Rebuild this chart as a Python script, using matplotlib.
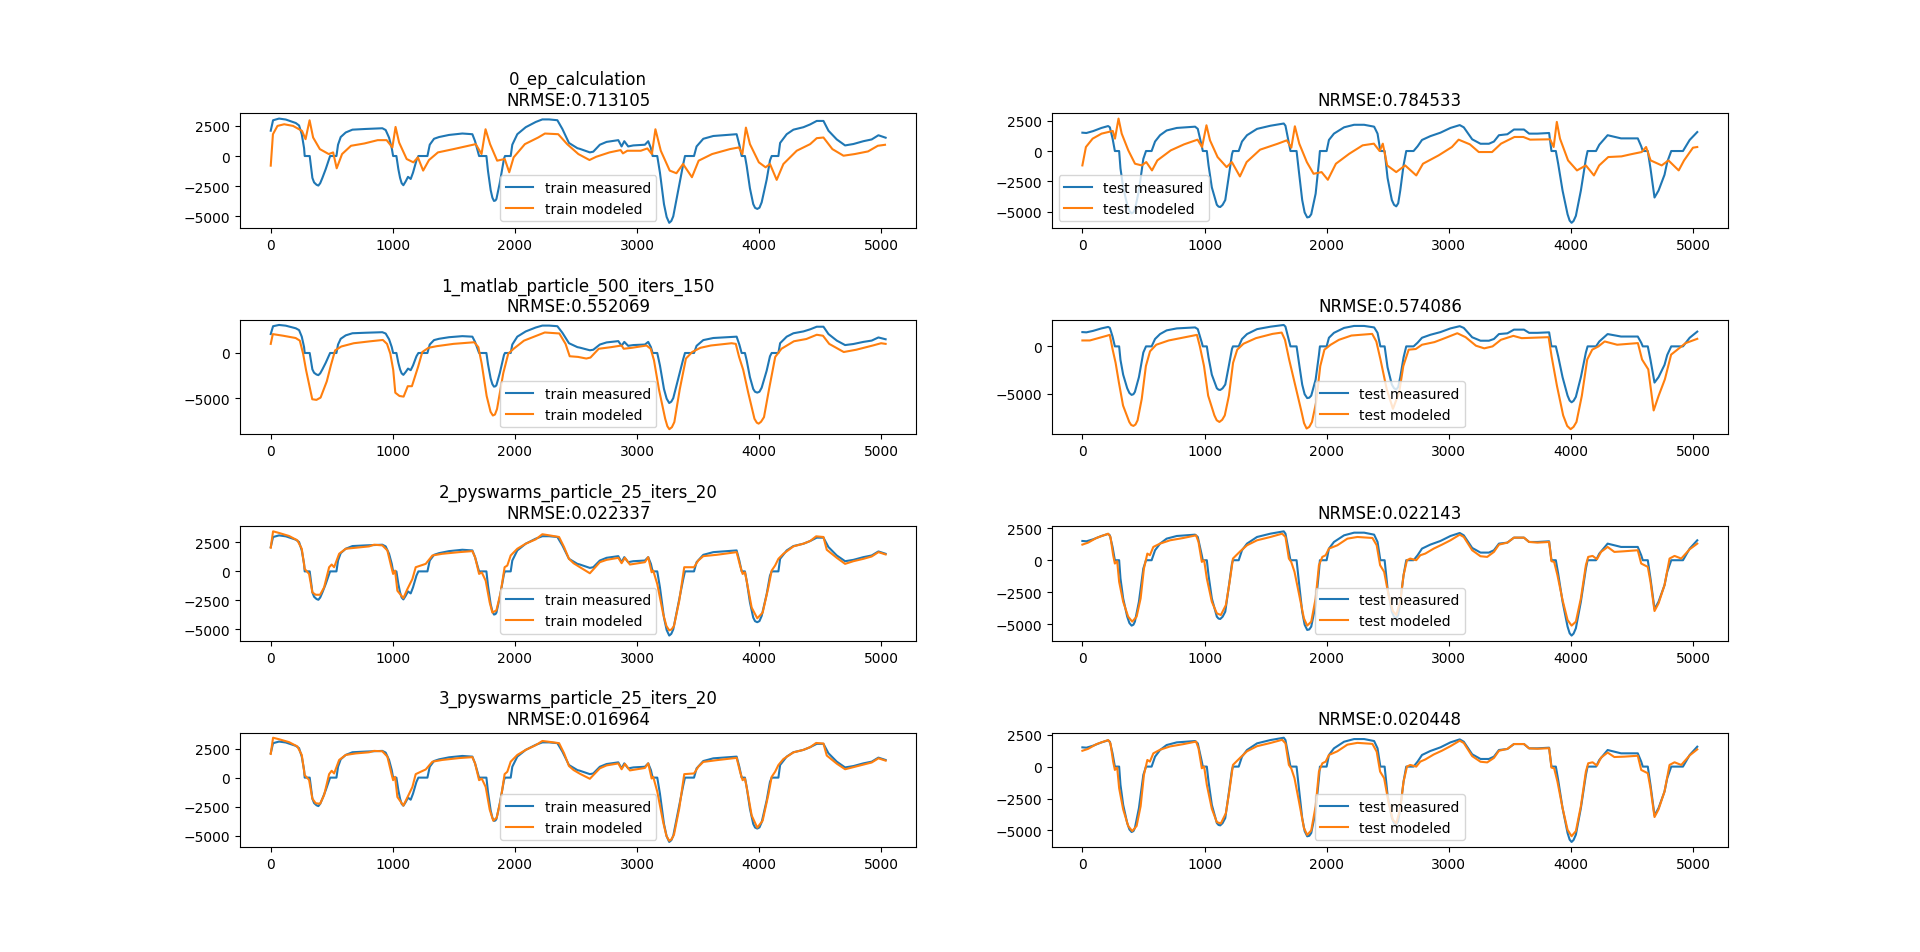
import numpy as np
import matplotlib
matplotlib.use("Agg")
import matplotlib.pyplot as plt

# run names and scores
run_names = ["0_ep_calculation", "1_matlab_particle_500_iters_150",
             "2_pyswarms_particle_25_iters_20", "3_pyswarms_particle_25_iters_20"]
train_nrmse = ["0.713105", "0.552069", "0.022337", "0.016964"]
test_nrmse = ["0.784533", "0.574086", "0.022143", "0.020448"]

# measured series (same in every row)
train_measured = [
    (0, 2095), (19, 2960), (68, 3100), (123, 3021), (205, 2732), (232, 2529), (254, 1806), (273, 648),
    (278, 0), (319, 0), (327, -653), (341, -1811), (355, -2187), (375, -2380), (390, -2447), (405, -2250),
    (423, -1811), (450, -1088),
    (478, -220), (486, 0), (538, 0), (551, 935), (573, 1571), (614, 1950), (669, 2182), (778, 2240),
    (914, 2298), (941, 2153), (969, 1516), (991, 648), (1002, 0), (1029, 0), (1045, -1088), (1059, -1811),
    (1072, -2250), (1086, -2418), (1105, -2100), (1124, -1724), (1146, -1900), (1165, -1377), (1193, -365),
    (1209, 0),
    (1283, 0), (1302, 935), (1337, 1427), (1378, 1571), (1460, 1745), (1569, 1863), (1651, 1805),
    (1673, 1227), (1706, 0), (1766, 0), (1779, -1239), (1801, -2830), (1815, -3450), (1828, -3720),
    (1840, -3680), (1848, -3554), (1875, -2251), (1910, -220), (1918, 0), (1965, 0), (1978, 935),
    (2019, 1806), (2088, 2385),
    (2170, 2819), (2224, 3030), (2279, 3030), (2347, 2963), (2388, 2240), (2442, 1082), (2511, 648),
    (2532, 590), (2613, 300), (2641, 359), (2695, 935), (2750, 1169), (2846, 1313), (2873, 793),
    (2895, 1227), (2927, 793), (2969, 877), (3064, 935), (3091, 1227), (3113, 648), (3127, 0), (3165, 0),
    (3187, -1377), (3220, -3982), (3242, -5050), (3263, -5530), (3280, -5380), (3296, -4995),
    (3337, -2824), (3378, -654), (3392, 0),
    (3466, 0), (3487, 793), (3542, 1427), (3624, 1658), (3733, 1745), (3815, 1806), (3837, 935),
    (3856, 0), (3883, 0), (3897, -799), (3924, -2679), (3951, -3982), (3966, -4290), (3984, -4380),
    (4002, -4280), (4020, -3837),
    (4061, -1956), (4088, -365), (4102, 0), (4157, 0), (4171, 1082), (4225, 1806), (4280, 2182),
    (4362, 2385), (4417, 2616), (4471, 2905), (4526, 2905), (4567, 2095), (4635, 1372), (4703, 877),
    (4771, 993), (4853, 1227), (4921, 1372), (4976, 1719), (5035, 1516),
]

test_measured = [
    (0, 1508), (33, 1482), (88, 1638), (156, 1898), (211, 2054), (225, 1950), (247, 1040), (266, 0),
    (301, 0), (312, -1430), (334, -2990), (367, -4420), (385, -4920), (403, -5122), (418, -5050),
    (430, -4810), (463, -3250),
    (499, -650), (521, 0), (567, 0), (595, 780), (636, 1300), (690, 1690), (773, 1898), (923, 2002),
    (945, 1820), (978, 390), (986, 0), (1019, 0), (1033, -1170), (1060, -2990), (1101, -4420),
    (1115, -4570), (1129, -4602), (1148, -4430), (1170, -4030), (1197, -2210), (1225, -260), (1233, 0),
    (1280, 0), (1307, 780),
    (1348, 1300), (1430, 1820), (1540, 2080), (1649, 2262), (1663, 2080), (1691, 650), (1704, 0),
    (1754, 0), (1773, -1690), (1800, -4030), (1820, -5050), (1841, -5460), (1858, -5420), (1874, -5200),
    (1910, -3510), (1937, -910),
    (1945, 0), (2000, 0), (2019, 910), (2060, 1430), (2143, 1950), (2225, 2158), (2307, 2158),
    (2389, 2002), (2417, 1430), (2440, 0), (2475, 0), (2499, -2210), (2534, -4030), (2552, -4420),
    (2570, -4550), (2586, -4300), (2603, -3250), (2630, -1170), (2652, 0), (2712, 0), (2745, 390),
    (2781, 910), (2849, 1222),
    (2932, 1508), (3014, 1898), (3090, 2132), (3123, 1950), (3192, 962), (3260, 598), (3329, 598),
    (3370, 780), (3411, 1300), (3480, 1378), (3534, 1768), (3616, 1768), (3658, 1430), (3726, 1430),
    (3822, 1482), (3841, 0), (3877, 0), (3896, -1040), (3932, -3250), (3973, -5200), (3990, -5720),
    (4006, -5902), (4022, -5750), (4041, -5330), (4082, -3250), (4123, -650), (4137, 0), (4206, 0),
    (4233, 520), (4301, 1300),
    (4356, 1170), (4411, 1040), (4548, 1040), (4576, 390), (4589, 0), (4630, 0), (4652, -1430),
    (4685, -3822), (4718, -3250), (4767, -1950), (4789, -910), (4822, 0), (4918, 0), (4973, 910),
    (5035, 1560),
]

# modeled series, one per run
train_modeled_0 = [
    (0, -798), (18, 1806), (55, 2492), (110, 2629), (183, 2492), (256, 2080), (285, 1395), (318, 2958),
    (347, 1532), (402, 573), (475, 162), (511, 299), (540, -1017), (584, 162), (657, 847), (767, 1039),
    (876, 1313), (949, 1313), (996, 710), (1022, 2409), (1051, 1121), (1113, -249), (1168, -524),
    (1205, -112), (1248, -1208), (1296, -332), (1369, 299), (1497, 573), (1679, 984), (1726, 162),
    (1759, 2217), (1796, 984), (1854, -386), (1916, -249), (1953, -1345), (1989, -112), (2081, 984),
    (2190, 1532), (2245, 1861), (2354, 1806), (2427, 984), (2519, 162), (2610, -332), (2665, -63),
    (2774, 299), (2865, 491), (2884, 217), (2920, 436), (3030, 436), (3084, 628), (3121, 162),
    (3150, 2217), (3194, 436), (3267, -1208), (3322, -1427), (3376, -660), (3449, -1756), (3504, -386),
    (3614, 162), (3760, 573), (3833, 710), (3862, 162), (3891, 2354), (3924, 984), (3997, -524),
    (4052, -935), (4088, -660), (4143, -1975), (4198, -660), (4307, 436), (4417, 984), (4471, 1477),
    (4526, 1532), (4599, 573), (4690, 25), (4782, 162), (4891, 381), (4971, 847), (5030, 929),
]

test_modeled_0 = [
    (0, -1183), (29, 330), (84, 1018), (157, 1430), (249, 1650), (267, 1018), (296, 2668), (322, 1430),
    (376, 55), (431, -1045), (486, -1183), (523, -908), (570, -1595), (614, -770), (724, 55), (833, 550),
    (943, 935), (980, 330), (1016, 2118), (1045, 880), (1107, -495), (1181, -1320), (1224, -908),
    (1290, -2090), (1345, -908), (1455, 110), (1601, 605), (1674, 880), (1711, 275), (1740, 2035),
    (1776, 605), (1838, -908), (1893, -1870), (1959, -1733), (2010, -2365), (2076, -1045), (2186, -220),
    (2295, 468), (2387, 605), (2434, 0), (2460, 605), (2496, -1183), (2570, -1733), (2643, -1183),
    (2734, -2008), (2789, -1045), (2917, -358), (3026, 330), (3081, 935), (3173, 550), (3246, -83),
    (3355, -83), (3428, 605), (3538, 1155), (3611, 1155), (3666, 935), (3830, 963), (3859, 330),
    (3885, 2393), (3911, 1018), (3977, -770), (4050, -1595), (4123, -1183), (4189, -2008), (4232, -1183),
    (4306, -495), (4415, -440), (4488, -275), (4580, -83), (4616, 330), (4653, -770), (4744, -1183),
    (4799, -770), (4883, -1595), (4927, -770), (5000, 275), (5035, 330),
]

train_modeled_1 = [
    (0, 1008), (17, 2088), (102, 1908), (204, 1656), (238, 1368), (265, -72), (289, -1872), (323, -4032),
    (340, -5112), (374, -5184), (408, -4932), (459, -3132), (493, -1332), (527, 288), (578, 720),
    (680, 1080), (816, 1296), (918, 1440), (952, 1008), (979, -72), (1003, -1872), (1020, -4392),
    (1054, -4752), (1088, -4824), (1122, -3672), (1156, -3672), (1207, -1512), (1241, 108), (1292, 576),
    (1360, 756), (1496, 1008), (1666, 1188), (1700, 648), (1727, -1152), (1768, -4752), (1800, -6500),
    (1819, -6912), (1836, -6800), (1853, -6192), (1904, -2232), (1945, -72), (1989, 468), (2074, 1368),
    (2176, 1908), (2244, 2268),
    (2363, 2160), (2414, 1008), (2448, -360), (2516, -432), (2584, -612), (2618, -504), (2686, 468),
    (2788, 648), (2873, 828), (2890, 468), (2958, 576), (3077, 828), (3111, 468), (3138, -792),
    (3179, -4032), (3230, -7272), (3248, -8100), (3264, -8424), (3285, -8200), (3305, -7632),
    (3349, -4032), (3400, -612), (3451, 108),
    (3519, 576), (3604, 828), (3774, 1080), (3808, 1008), (3835, -432), (3869, -1872), (3910, -4392),
    (3961, -7272), (3980, -7700), (3995, -7812), (4015, -7600), (4039, -7092), (4080, -4032), (4131, -432),
    (4182, 468), (4284, 1296),
    (4386, 1548), (4471, 2016), (4522, 1908), (4573, 1008), (4692, 108), (4794, 360), (4930, 828),
    (4998, 1080), (5035, 1008),
]

test_modeled_1 = [
    (0, 625), (61, 625), (197, 1110), (224, 1215), (248, -347), (272, -1735), (299, -3817), (333, -6246),
    (384, -7981), (400, -8300), (418, -8397), (435, -8250), (452, -7808), (486, -5552), (520, -2082),
    (554, -520), (605, 173),
    (707, 625), (843, 972), (938, 1215), (962, 0), (996, -2082), (1030, -5205), (1081, -7287),
    (1100, -7800), (1122, -7981), (1145, -7750), (1166, -7287), (1200, -5205), (1234, -1735), (1268, -347),
    (1319, 278), (1421, 868),
    (1557, 1319), (1632, 1458), (1659, 694), (1693, -1388), (1744, -4164), (1795, -6940), (1815, -8100),
    (1836, -8675), (1858, -8500), (1880, -7981), (1914, -5899), (1948, -2082), (1982, -347), (2033, 173),
    (2101, 694), (2203, 1145),
    (2373, 1319), (2407, 520), (2441, -1388), (2492, -4511), (2543, -6593), (2594, -4858), (2628, -2082),
    (2672, -347), (2730, -278), (2781, 173), (2883, 451), (2968, 868), (3070, 1388), (3138, 972),
    (3223, 69), (3291, -208), (3359, 0), (3427, 694), (3529, 1110), (3597, 868), (3818, 972),
    (3842, -1041), (3886, -4164), (3937, -7287), (3970, -8400), (3998, -8744), (4022, -8500),
    (4046, -7981), (4090, -5205),
    (4134, -1388), (4175, -347), (4226, 0), (4277, 520), (4379, 173), (4549, 347), (4583, -1388),
    (4634, -2429), (4678, -6767), (4719, -5205), (4770, -3470), (4821, -868), (4872, -347), (4940, 347),
    (5035, 798),
]

train_modeled_2 = [
    (0, 2037), (19, 3450), (68, 3311), (150, 3050), (218, 2674), (254, 1950), (278, 214), (314, -220),
    (341, -1811), (368, -2014), (404, -2014), (437, -1377), (478, 359), (499, 590), (519, 359),
    (560, 1516), (614, 1950), (696, 2037), (805, 2153), (846, 2298), (914, 2240), (955, 1806), (988, 359),
    (1002, -220), (1018, 69), (1037, -1667), (1086, -2303), (1119, -1522), (1160, -654), (1187, 359),
    (1228, 504), (1269, 648), (1324, 1372), (1405, 1516), (1542, 1658), (1651, 1745), (1673, 1227),
    (1706, -220), (1728, -87), (1760, -799), (1793, -2679), (1815, -3554), (1848, -3351), (1883, -1811),
    (1915, 359), (1937, 504), (1965, 1372), (2019, 1950), (2088, 2385), (2170, 2761), (2224, 3200),
    (2279, 3108), (2361, 2963), (2402, 2095), (2442, 1082), (2480, 700), (2532, 359), (2613, -162),
    (2695, 793), (2750, 993), (2846, 1169), (2873, 706), (2900, 1169), (2941, 590), (3064, 793),
    (3091, 1227), (3119, -75), (3132, 69), (3165, -1088), (3214, -3692), (3240, -4700), (3263, -5080),
    (3282, -5000), (3302, -4704),
    (3345, -2534), (3386, 359), (3466, 359), (3501, 935), (3542, 1313), (3651, 1427), (3815, 1658),
    (3843, 504), (3864, -220), (3883, -75), (3902, -1088), (3938, -3114), (3984, -4040), (4028, -3554),
    (4075, -1377), (4102, 69), (4130, 504), (4157, 1082), (4198, 1516), (4280, 2153), (4362, 2385),
    (4417, 2616), (4466, 3021), (4526, 2963), (4553, 1863), (4635, 1169), (4703, 648), (4771, 877),
    (4853, 1082), (4921, 1285), (4976, 1658), (5035, 1458),
]

test_modeled_2 = [
    (0, 1222), (47, 1378), (115, 1742), (211, 2080), (230, 1820), (252, 390), (266, -260), (285, -78),
    (301, -1690), (334, -3250), (375, -4420), (408, -4810), (444, -4420), (477, -2990), (504, -650),
    (532, 520), (553, 390), (581, 1040), (636, 1300), (718, 1560), (827, 1742), (931, 1950), (951, 1430),
    (978, -130), (997, 0), (1019, -1430), (1060, -3250), (1101, -4160), (1134, -4290), (1175, -3510),
    (1206, -1690), (1233, 130), (1260, 390), (1293, 702), (1348, 1170), (1430, 1560), (1540, 1820),
    (1636, 2080), (1663, 1820), (1691, 130), (1710, -130), (1737, -910), (1773, -2600), (1814, -4550),
    (1841, -5122), (1874, -4810), (1910, -2990), (1937, -390), (1965, 260), (1992, 390), (2019, 910),
    (2088, 1170), (2170, 1690), (2252, 1820), (2375, 1742), (2410, 1170), (2438, -390), (2471, -910),
    (2507, -2730), (2542, -3978), (2570, -4290), (2603, -3250), (2630, -1170), (2658, 0), (2685, 130),
    (2734, 0), (2767, 390), (2808, 520), (2877, 910), (2945, 1222), (3014, 1560), (3090, 2002),
    (3123, 1820), (3192, 780), (3260, 312), (3315, 260), (3370, 650), (3411, 1222), (3480, 1378),
    (3534, 1768), (3616, 1768), (3658, 1430), (3726, 1378), (3822, 1430), (3841, -78), (3863, -130),
    (3890, -1170), (3932, -3120), (3973, -4680), (4006, -5122), (4041, -4810), (4082, -2990),
    (4123, -390), (4142, 260), (4178, 338), (4214, 78), (4247, 650), (4301, 1040), (4356, 650),
    (4438, 702), (4548, 780), (4576, -260), (4603, -390), (4630, -520), (4652, -1690), (4685, -3978),
    (4718, -3380), (4767, -1950), (4808, 130), (4849, 338), (4904, 130), (4973, 858), (5035, 1300),
]

train_modeled_3 = [
    (0, 2037), (19, 3430), (68, 3300), (150, 3050), (218, 2680), (254, 1950), (278, 214), (314, -200),
    (341, -1811), (368, -2200), (404, -2250), (437, -1500), (478, 300), (499, 590), (519, 359),
    (560, 1516), (614, 1950), (696, 2080), (805, 2180), (846, 2298), (914, 2260), (955, 1806), (988, 359),
    (1002, -220), (1018, 69), (1037, -1667), (1086, -2400), (1119, -1700), (1160, -800), (1187, 300),
    (1228, 504), (1269, 700), (1324, 1372), (1405, 1520), (1542, 1680), (1651, 1760), (1673, 1227),
    (1706, -220), (1728, -87), (1760, -799), (1793, -2750), (1822, -3700), (1850, -3450), (1883, -1900),
    (1915, 300), (1937, 504), (1965, 1372), (2019, 1950), (2088, 2385), (2170, 2790), (2224, 3150),
    (2279, 3080), (2361, 2963), (2402, 2095), (2442, 1000), (2480, 650), (2532, 330), (2613, -100),
    (2695, 800), (2750, 1050), (2846, 1220), (2873, 720), (2900, 1180), (2941, 620), (3064, 830),
    (3091, 1227), (3119, -75), (3132, 69), (3165, -1200), (3214, -3850), (3240, -5000), (3263, -5430),
    (3282, -5300), (3302, -4900),
    (3345, -2650), (3386, 300), (3466, 359), (3501, 935), (3542, 1350), (3651, 1500), (3815, 1700),
    (3843, 504), (3864, -220), (3883, -75), (3902, -1100), (3938, -3250), (3984, -4300), (4028, -3700),
    (4075, -1450), (4102, 69), (4130, 504), (4157, 1082), (4198, 1600), (4280, 2170), (4362, 2385),
    (4417, 2620), (4466, 2980), (4526, 2930), (4553, 1900), (4635, 1200), (4703, 720), (4771, 900),
    (4853, 1120), (4921, 1300), (4976, 1660), (5035, 1460),
]

test_modeled_3 = [
    (0, 1240), (47, 1390), (115, 1760), (211, 2080), (230, 1820), (252, 390), (266, -260), (285, -78),
    (301, -1690), (334, -3350), (375, -4650), (408, -5050), (444, -4650), (477, -3100), (504, -650),
    (532, 520), (553, 390), (581, 1040), (636, 1320), (718, 1580), (827, 1760), (931, 1960), (951, 1430),
    (978, -130), (997, 0), (1019, -1430), (1060, -3300), (1101, -4350), (1134, -4450), (1175, -3650),
    (1206, -1750), (1233, 130), (1260, 390), (1293, 702), (1348, 1200), (1430, 1600), (1540, 1850),
    (1636, 2100), (1663, 1820), (1691, 130), (1710, -130), (1737, -910), (1773, -2700), (1814, -4800),
    (1841, -5350), (1874, -5000), (1910, -3100), (1937, -390), (1965, 260), (1992, 390), (2019, 910),
    (2088, 1200), (2170, 1720), (2252, 1860), (2375, 1780), (2410, 1170), (2438, -390), (2471, -910),
    (2507, -2800), (2542, -4150), (2570, -4450), (2603, -3300), (2630, -1170), (2658, 0), (2685, 130),
    (2734, 0), (2767, 390), (2808, 560), (2877, 950), (2945, 1250), (3014, 1600), (3090, 2030),
    (3123, 1850), (3192, 820), (3260, 380), (3315, 330), (3370, 680), (3411, 1240), (3480, 1390),
    (3534, 1768), (3616, 1768), (3658, 1430), (3726, 1400), (3822, 1440), (3841, -78), (3863, -130),
    (3890, -1170), (3932, -3250), (3973, -4950), (4006, -5450), (4041, -5050), (4082, -3100),
    (4123, -390), (4142, 260), (4178, 338), (4214, 78), (4247, 700), (4301, 1100), (4356, 750),
    (4438, 780), (4548, 850), (4576, -260), (4603, -390), (4630, -520), (4652, -1690), (4685, -3950),
    (4718, -3350), (4767, -1950), (4808, 130), (4849, 338), (4904, 130), (4973, 880), (5035, 1350),
]

train_modeled = [train_modeled_0, train_modeled_1, train_modeled_2, train_modeled_3]
test_modeled = [test_modeled_0, test_modeled_1, test_modeled_2, test_modeled_3]
test_legend_loc = ["lower left", "lower center", "lower center", "lower center"]

fig, axes = plt.subplots(4, 2, figsize=(19.2, 9.53), dpi=100)
fig.subplots_adjust(hspace=0.8)

for i in range(4):
    # train column
    ax = axes[i, 0]
    x, y = np.array(train_measured).T
    ax.plot(x, y, label="train measured")
    x, y = np.array(train_modeled[i]).T
    ax.plot(x, y, label="train modeled")
    ax.set_title(f"{run_names[i]}\nNRMSE:{train_nrmse[i]}")
    ax.legend(loc="lower center")

    # test column
    ax = axes[i, 1]
    x, y = np.array(test_measured).T
    ax.plot(x, y, label="test measured")
    x, y = np.array(test_modeled[i]).T
    ax.plot(x, y, label="test modeled")
    ax.set_title(f"NRMSE:{test_nrmse[i]}")
    ax.legend(loc=test_legend_loc[i])

fig.savefig("out.png", dpi=100)
